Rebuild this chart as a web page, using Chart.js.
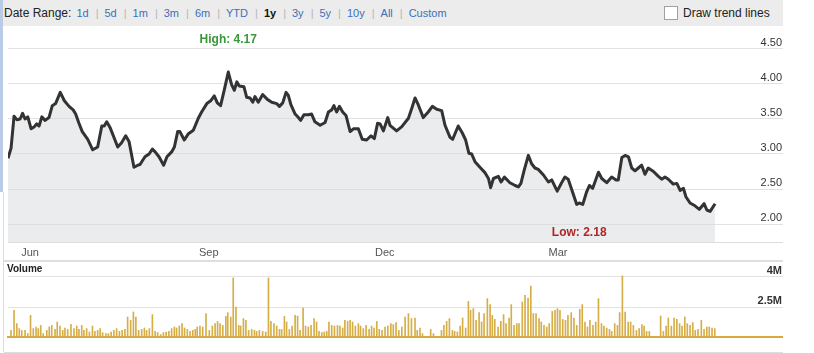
<!DOCTYPE html>
<html>
<head>
<meta charset="utf-8">
<script src="https://cdn.jsdelivr.net/npm/chart.js@4.4.1/dist/chart.umd.min.js"></script>
<style>
  body { margin: 0; background: #fff; font-family: "Liberation Sans", Arial, sans-serif; }
  #wrap { position: relative; width: 814px; height: 353px; overflow: hidden; }
  #hdr { position: absolute; left: 0; top: 0; width: 783px; height: 26px; background: #ececec; }
  #range { position: absolute; left: 4px; top: 6px; white-space: nowrap; font-size: 11px; color: #3d6fb8; }
  #range .lbl { font-size: 12px; color: #222; margin-right: 5px; }
  #range .sep { color: #b5b5b5; margin: 0 6px 0 7px; }
  #range b { color: #111; }
  #trend { position: absolute; left: 664px; top: 6px; font-size: 12px; color: #222; white-space: nowrap; }
  #trend .box { display: inline-block; width: 12px; height: 12px; border: 1px solid #a0a0a0; background: #fff; vertical-align: top; margin-right: 5px; }
  #leftbar { position: absolute; left: 0; top: 0; width: 3px; height: 192px; background: #b9cbe5; }
  #leftline { position: absolute; left: 3px; top: 192px; width: 1px; height: 160px; background: #dcdcdc; }
  #price { position: absolute; left: 0; top: 26px; }
  #split { position: absolute; left: 4px; top: 260px; width: 779px; height: 2px; background: #dedede; }
  #volume { position: absolute; left: 0; top: 262px; }
  #volTitle { position: absolute; left: 7px; top: 263px; font-size: 10px; font-weight: bold; color: #222; line-height: 11px; }
  #bottomline { position: absolute; left: 4px; top: 352px; width: 779px; height: 1px; background: #dedede; }
</style>
</head>
<body>
<div id="wrap">
  <div id="hdr">
    <div id="range"><span class="lbl">Date Range:</span>1d<span class="sep">|</span>5d<span class="sep">|</span>1m<span class="sep">|</span>3m<span class="sep">|</span>6m<span class="sep">|</span>YTD<span class="sep">|</span><b>1y</b><span class="sep">|</span>3y<span class="sep">|</span>5y<span class="sep">|</span>10y<span class="sep">|</span>All<span class="sep">|</span>Custom</div>
    <div id="trend"><span class="box"></span>Draw trend lines</div>
  </div>
  <div id="leftbar"></div>
  <div id="leftline"></div>
  <canvas id="price" width="783" height="236"></canvas>
  <div id="split"></div>
  <canvas id="volume" width="783" height="90"></canvas>
  <div id="volTitle">Volume</div>
  <div id="bottomline"></div>
</div>
<script>
// trading days counted from the first point of the 1y window
const priceDays = [
  0, 1.1, 2.2, 3.2, 4.4, 5.3, 6.2, 7.2, 8.4, 9.6,
  10.4, 11.3, 12.3, 13.5, 14.9, 16.1, 17.3, 19.0, 20.5, 22.2,
  23.7, 24.6, 25.8, 27.0, 29.0, 30.8, 32.6, 34.1, 35.0, 35.9,
  37.2, 39.9, 41.3, 42.8, 44.0, 45.8, 47.2, 48.0, 49.8, 51.3,
  52.5, 53.5, 54.9, 56.6, 57.8, 59.5, 60.5, 61.7, 62.5, 64.1,
  65.6, 67.4, 69.2, 70.4, 72.3, 73.7, 75.0, 76.1, 77.3, 78.5,
  80.1, 81.3, 82.3, 83.2, 84.1, 85.8, 86.8, 88.0, 89.0, 89.8,
  91.0, 92.6, 94.3, 95.9, 97.7, 98.7, 99.9, 101.1, 101.9, 102.9,
  104.4, 105.6, 106.4, 107.6, 109.2, 110.4, 111.6, 113.5, 115.3, 116.5,
  117.7, 118.5, 119.5, 120.5, 121.7, 122.9, 124.4, 125.6, 127.4, 128.8,
  130.4, 132.0, 133.2, 134.4, 135.3, 136.5, 138.1, 138.9, 141.3, 143.2,
  145.6, 146.8, 148.0, 149.2, 151.0, 152.8, 154.3, 155.9, 157.7, 158.9,
  160.7, 161.7, 163.7, 165.2, 166.4, 167.6, 168.6, 169.8, 171.6, 173.5,
  174.7, 175.5, 176.5, 178.3, 179.3, 180.5, 182.5, 184.4, 185.6, 186.5,
  187.7, 189.2, 190.4, 191.6, 192.8, 194.7, 196.5, 197.7, 199.7, 201.3,
  202.5, 203.7, 205.0, 206.8, 207.7, 209.0, 210.4, 211.4, 212.6, 214.7,
  215.9, 217.7, 219.5, 221.1, 221.9, 223.2, 224.4, 225.6, 226.8, 228.0,
  229.2, 230.4, 231.6, 232.8, 234.7, 236.5, 237.7, 238.9, 240.1, 241.9,
  243.2, 244.4, 245.6, 246.5, 248.0, 249.8, 251.4, 253.1, 254.1, 255.3,
  257.1
];
const priceValues = [
  2.94, 3.08, 3.54, 3.49, 3.50, 3.58, 3.50, 3.53, 3.36, 3.39,
  3.43, 3.40, 3.53, 3.48, 3.52, 3.69, 3.72, 3.88, 3.76, 3.68,
  3.63, 3.57, 3.44, 3.32, 3.21, 3.06, 3.10, 3.40, 3.40, 3.46,
  3.37, 3.10, 3.16, 3.26, 3.18, 2.81, 2.84, 2.85, 2.96, 3.00,
  3.07, 3.03, 2.96, 2.84, 2.96, 3.03, 3.10, 3.32, 3.32, 3.20,
  3.29, 3.34, 3.51, 3.60, 3.72, 3.76, 3.83, 3.73, 3.69, 3.89,
  4.17, 3.99, 3.91, 4.03, 3.97, 3.96, 3.81, 3.80, 3.74, 3.82,
  3.74, 3.85, 3.78, 3.74, 3.72, 3.68, 3.73, 3.88, 3.84, 3.70,
  3.57, 3.52, 3.48, 3.56, 3.56, 3.57, 3.46, 3.41, 3.45, 3.60,
  3.63, 3.69, 3.60, 3.68, 3.60, 3.55, 3.32, 3.36, 3.36, 3.21,
  3.20, 3.26, 3.22, 3.44, 3.43, 3.33, 3.52, 3.41, 3.33, 3.39,
  3.51, 3.65, 3.80, 3.70, 3.52, 3.60, 3.68, 3.64, 3.62, 3.41,
  3.24, 3.21, 3.40, 3.30, 3.20, 3.01, 3.00, 2.89, 2.81, 2.73,
  2.65, 2.52, 2.65, 2.68, 2.60, 2.67, 2.59, 2.55, 2.53, 2.58,
  2.77, 2.98, 2.86, 2.80, 2.78, 2.70, 2.60, 2.63, 2.47, 2.59,
  2.67, 2.64, 2.49, 2.28, 2.30, 2.28, 2.46, 2.55, 2.51, 2.74,
  2.65, 2.59, 2.67, 2.63, 2.63, 2.95, 2.98, 2.96, 2.80, 2.76,
  2.80, 2.84, 2.71, 2.80, 2.75, 2.68, 2.64, 2.67, 2.64, 2.57,
  2.58, 2.48, 2.51, 2.39, 2.30, 2.26, 2.21, 2.29, 2.20, 2.18,
  2.29
];

// volume in millions of shares
const volumeDays = [
  1.1, 2.2, 3.2, 4.1, 5.0, 6.2, 7.2, 8.2, 9.2, 10.2,
  11.0, 11.9, 12.8, 14.1, 15.0, 15.9, 17.1, 17.9, 18.9, 19.9,
  20.7, 21.7, 22.9, 24.0, 25.0, 25.8, 26.8, 27.6, 28.6, 29.6,
  30.7, 31.6, 32.6, 33.5, 34.4, 35.6, 36.5, 37.5, 38.5, 39.5,
  40.5, 41.5, 42.5, 43.5, 44.6, 45.6, 46.5, 47.5, 48.6, 49.6,
  50.4, 51.4, 52.5, 53.5, 54.4, 55.5, 56.5, 57.5, 58.5, 59.5,
  60.5, 61.3, 62.3, 63.3, 64.2, 65.2, 66.2, 67.2, 68.1, 68.8,
  69.8, 70.8, 72.0, 73.2, 74.3, 75.3, 76.2, 77.1, 78.1, 79.2,
  79.9, 81.0, 81.9, 82.9, 83.9, 84.6, 85.6, 86.5, 87.5, 88.6,
  89.6, 90.4, 91.4, 92.6, 93.7, 94.7, 95.6, 96.7, 97.7, 98.7,
  99.5, 100.5, 101.3, 102.3, 103.3, 104.4, 105.3, 106.2, 107.3, 108.2,
  109.2, 110.2, 111.3, 112.2, 113.1, 114.1, 115.0, 115.9, 116.7, 117.7,
  118.7, 119.8, 120.7, 121.7, 122.5, 123.5, 124.4, 125.3, 126.3, 127.4,
  128.2, 129.2, 130.2, 131.3, 132.2, 133.1, 134.1, 135.0, 136.0, 137.1,
  138.1, 139.2, 140.1, 141.1, 142.1, 143.2, 144.4, 145.6, 146.7, 148.0,
  148.8, 149.8, 150.7, 153.7, 154.7, 157.6, 158.5, 159.5, 160.5, 161.6,
  162.4, 163.4, 164.4, 165.3, 166.4, 167.4, 168.2, 169.2, 170.2, 171.3,
  172.2, 173.1, 174.3, 175.3, 176.1, 177.0, 178.2, 179.2, 180.2, 181.1,
  182.2, 183.0, 184.0, 185.0, 185.8, 187.0, 188.0, 189.1, 190.1, 191.0,
  192.0, 193.1, 193.9, 194.9, 195.9, 196.8, 197.9, 198.9, 199.8, 200.7,
  201.7, 202.7, 203.6, 204.8, 205.8, 206.8, 207.9, 208.8, 209.8, 210.7,
  211.6, 212.7, 213.7, 214.7, 215.8, 216.7, 217.7, 218.7, 219.5, 220.6,
  221.6, 222.4, 223.4, 224.4, 225.5, 226.4, 227.4, 228.5, 229.5, 230.5,
  231.3, 232.2, 233.2, 237.3, 238.3, 239.3, 240.1, 241.2, 242.2, 243.2,
  244.2, 245.1, 246.1, 247.0, 248.0, 249.0, 249.9, 250.9, 252.1, 253.1,
  254.1, 255.0, 256.0, 257.0
];
const volumeValues = [
  1.33, 2.33, 1.67, 1.42, 1.33, 1.33, 1.17, 2.08, 1.42, 1.50,
  1.42, 1.58, 1.17, 1.33, 1.50, 1.58, 1.38, 1.75, 1.55, 1.33,
  1.45, 1.38, 1.63, 1.42, 1.55, 1.38, 1.58, 1.33, 1.42, 1.25,
  1.55, 1.28, 1.33, 1.42, 1.22, 1.17, 1.17, 1.25, 1.33, 1.42,
  1.28, 1.33, 1.38, 2.00, 1.83, 2.25, 2.00, 1.33, 1.38, 1.45,
  1.33, 1.42, 2.12, 1.28, 1.22, 1.12, 1.22, 1.25, 1.28, 1.42,
  1.50, 1.45, 1.55, 1.67, 1.45, 1.38, 1.28, 1.33, 1.38, 1.50,
  1.55, 1.50, 2.17, 1.33, 1.55, 1.67, 1.78, 1.67, 1.58, 2.03,
  2.22, 2.00, 3.95, 2.50, 1.58, 1.55, 1.92, 1.83, 1.33, 1.38,
  1.33, 1.28, 1.33, 1.28, 1.25, 3.95, 1.78, 1.67, 1.55, 1.38,
  1.38, 2.03, 1.75, 1.38, 1.55, 2.08, 2.05, 1.33, 2.45, 1.55,
  1.50, 1.58, 1.92, 1.75, 1.28, 1.22, 1.25, 1.28, 1.75, 1.58,
  1.55, 1.58, 1.55, 1.45, 1.83, 1.78, 1.83, 1.75, 1.55, 1.67,
  1.55, 1.42, 1.58, 1.38, 1.55, 1.45, 1.78, 1.38, 1.33, 1.50,
  1.55, 1.67, 1.62, 1.72, 1.33, 1.50, 2.00, 2.17, 1.92, 1.95,
  1.33, 1.45, 1.17, 1.38, 1.17, 1.33, 1.58, 1.78, 1.92, 1.33,
  1.28, 1.25, 1.55, 1.95, 1.45, 2.78, 2.33, 2.42, 1.83, 2.22,
  1.75, 2.17, 2.92, 2.62, 2.08, 1.88, 1.50, 1.78, 2.12, 1.67,
  1.95, 2.62, 1.58, 1.67, 1.67, 2.75, 3.08, 2.95, 3.55, 2.17,
  2.17, 1.92, 1.75, 1.58, 1.50, 1.67, 2.28, 2.33, 2.42, 2.33,
  1.88, 1.83, 2.08, 2.22, 1.95, 1.58, 2.38, 2.62, 1.75, 1.50,
  1.83, 1.58, 1.75, 2.92, 1.67, 1.55, 1.45, 1.38, 1.28, 1.67,
  1.58, 2.22, 4.05, 2.25, 1.75, 1.75, 1.58, 1.33, 1.42, 1.62,
  1.55, 1.28, 1.28, 2.05, 1.28, 1.55, 1.95, 1.55, 1.95, 1.88,
  1.67, 1.55, 2.00, 1.67, 1.58, 1.72, 1.33, 1.38, 1.83, 1.38,
  1.50, 1.50, 1.45, 1.42
];

const monthDays = [8, 73, 137, 200];
const monthLabels = ["Jun", "Sep", "Dec", "Mar"];
const priceTicks = [2.00, 2.50, 3.00, 3.50, 4.00, 4.50];
const volumeTicks = [2.5, 4];
const lowLabelDay = 207.7;

const FONT = '"Liberation Sans", Arial, sans-serif';
const X_MAX = 281.8;

// drop the extra room Chart.js keeps for edge labels
function noPad(s) {
  s.paddingTop = 0;
  s.paddingBottom = 0;
  s.paddingLeft = 0;
  s.paddingRight = 0;
}

const hiLoLabels = {
  id: "hiLoLabels",
  afterDatasetsDraw(chart) {
    const { ctx, chartArea, scales: { x } } = chart;
    const hi = Math.max(...priceValues);
    const lo = Math.min(...priceValues);
    const hiDay = priceDays[priceValues.indexOf(hi)];
    ctx.save();
    ctx.font = "bold 12px " + FONT;
    ctx.textAlign = "center";
    ctx.textBaseline = "middle";
    ctx.fillStyle = "#3a983a";
    ctx.fillText("High: " + hi.toFixed(2), x.getPixelForValue(hiDay), chartArea.top + 10);
    ctx.fillStyle = "#b02626";
    ctx.fillText("Low: " + lo.toFixed(2), x.getPixelForValue(lowLabelDay), chartArea.bottom - 9);
    ctx.restore();
  }
};

new Chart(document.getElementById("price"), {
  type: "line",
  data: {
    datasets: [{
      data: priceDays.map((d, i) => ({ x: d, y: priceValues[i] })),
      borderColor: "#333333",
      borderWidth: 3,
      backgroundColor: "rgba(214, 217, 222, 0.5)",
      fill: "start",
      pointRadius: 0,
      tension: 0,
      borderJoinStyle: "round"
    }]
  },
  options: {
    responsive: false,
    animation: false,
    layout: { padding: { left: 8, top: 4, right: 0, bottom: 0 } },
    plugins: { legend: { display: false }, tooltip: { enabled: false } },
    scales: {
      x: {
        type: "linear",
        min: 0,
        max: X_MAX,
        afterBuildTicks: s => { s.ticks = monthDays.map(v => ({ value: v })); },
        afterFit: s => { s.height = 20; noPad(s); },
        ticks: {
          callback: (v, i) => monthLabels[i],
          color: "#555",
          font: { size: 11, family: FONT },
          padding: 4,
          maxRotation: 0,
          autoSkip: false
        },
        grid: { display: false, drawTicks: false },
        border: { display: true, color: "#dddddd" }
      },
      y: {
        position: "right",
        min: 1.743,
        max: 4.771,
        afterBuildTicks: s => { s.ticks = priceTicks.map(v => ({ value: v })); },
        afterFit: s => { s.width = 0; noPad(s); },
        ticks: {
          mirror: true,
          labelOffset: -6,
          padding: -1,
          color: "#333",
          font: { size: 11, family: FONT },
          callback: v => v.toFixed(2)
        },
        grid: { color: "#e2e2e2", drawTicks: false },
        border: { display: false }
      }
    }
  },
  plugins: [hiLoLabels]
});

new Chart(document.getElementById("volume"), {
  type: "bar",
  data: {
    datasets: [{
      data: volumeDays.map((d, i) => ({ x: d, y: volumeValues[i] })),
      backgroundColor: "#d6ae48",
      barThickness: 1
    }]
  },
  options: {
    responsive: false,
    animation: false,
    layout: { padding: { left: 8, top: 0, right: 0, bottom: 15 } },
    plugins: { legend: { display: false }, tooltip: { enabled: false } },
    scales: {
      x: {
        type: "linear",
        min: 0,
        max: X_MAX,
        offset: false,
        afterFit: s => { s.height = 0; noPad(s); },
        ticks: { display: false },
        grid: { display: false, drawTicks: false },
        border: { display: true, color: "#d8aa3c", width: 2 }
      },
      y: {
        position: "right",
        min: 1,
        max: 4.75,
        afterBuildTicks: s => { s.ticks = volumeTicks.map(v => ({ value: v })); },
        afterFit: s => { s.width = 0; noPad(s); },
        ticks: {
          mirror: true,
          labelOffset: -6,
          padding: -1,
          color: "#333",
          font: { size: 11, weight: "bold", family: FONT },
          callback: v => v + "M"
        },
        grid: { color: "#e2e2e2", drawTicks: false },
        border: { display: false }
      }
    }
  }
});
</script>
</body>
</html>
